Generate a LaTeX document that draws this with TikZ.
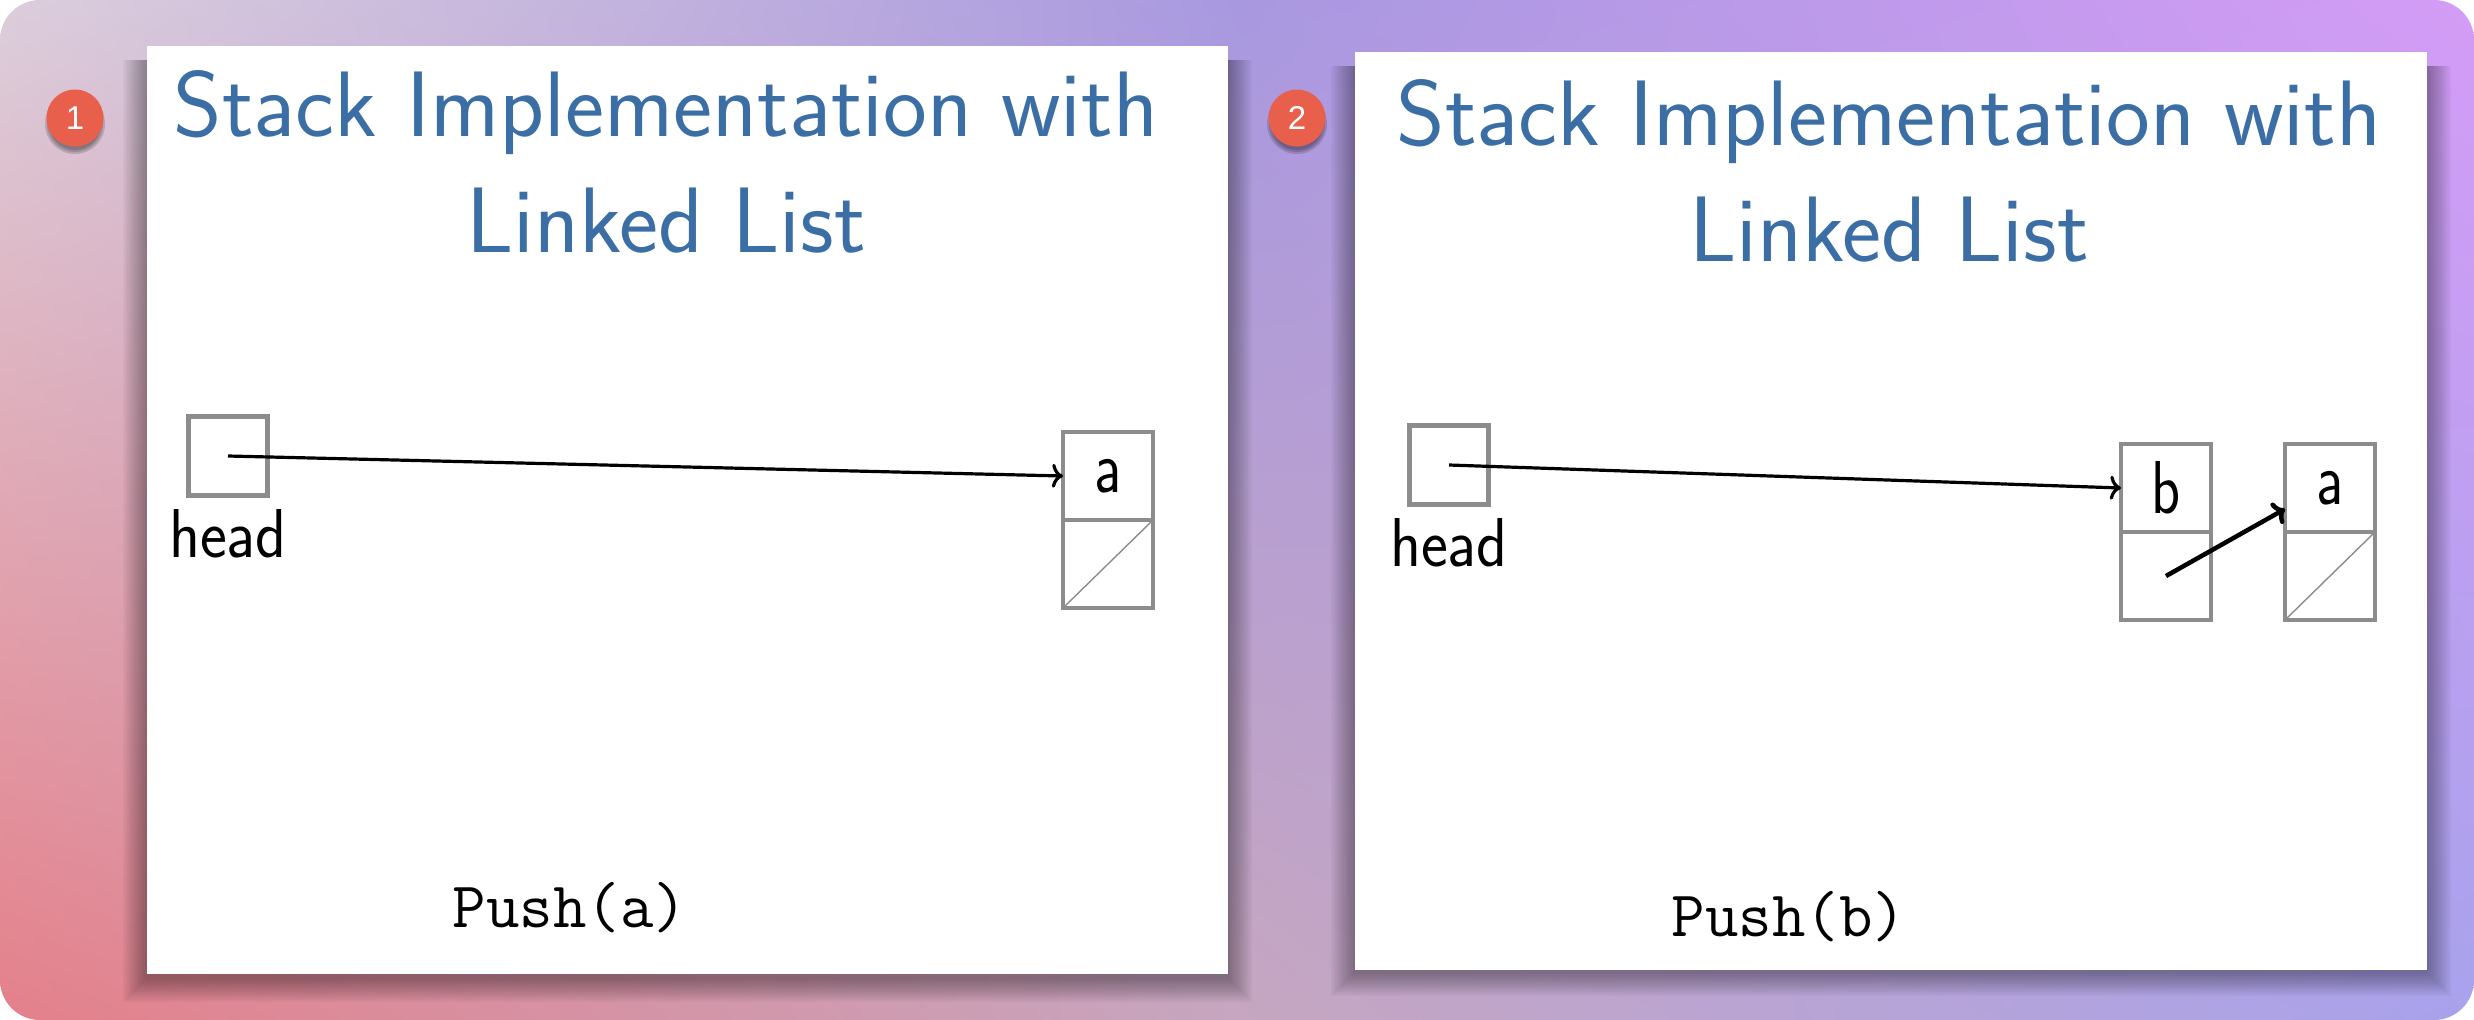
\documentclass[tikz,border=0pt]{standalone}
\usepackage{fontspec}
\usepackage{graphicx}
\newfontfamily\badgefont{Liberation Sans}
\usetikzlibrary{positioning,shadings,arrows.meta}

\definecolor{titleblue}{HTML}{3A6EA5}
\definecolor{boxgray}{HTML}{8C8C8C}
\definecolor{badgered}{HTML}{E8604C}
\definecolor{bgtl}{HTML}{DCCEDC}
\definecolor{bgtm}{HTML}{A898E0}
\definecolor{bgtr}{HTML}{D49CF6}
\definecolor{bgbl}{HTML}{E4808A}
\definecolor{bgbm}{HTML}{C6A6C0}
\definecolor{bgbr}{HTML}{A8A2EC}

% text in the slides is a bit taller than wide
\newcommand{\vstretch}[2]{\scalebox{1}[#1]{#2}}

\begin{document}
\begin{tikzpicture}[x=1pt,y=-1pt]
	\tikzset{
		headbox/.style={rectangle, draw=boxgray, line width=4.3pt, minimum size=79pt, inner sep=0pt, outer sep=0pt},
		cell/.style={rectangle, draw=boxgray, line width=4.3pt, minimum width=90pt, minimum height=88pt, inner sep=0pt, outer sep=0pt, font=\sffamily\fontsize{60}{60}\selectfont},
		headlabel/.style={inner sep=0pt, outer sep=0pt, font=\sffamily\fontsize{64}{64}\selectfont},
		slidetitle/.style={align=center, inner sep=0pt, text=titleblue, font=\sffamily\fontsize{93}{116}\selectfont},
		opcall/.style={inner sep=0pt, anchor=base, font=\ttfamily\fontsize{65}{65}\selectfont},
		ptr/.style={-{To[length=11pt,width=24pt]}, line width=3.2pt, black},
		nullslash/.style={boxgray, line width=1.4pt},
		badge/.style={circle, fill=badgered, minimum size=57pt, inner sep=0pt, text=white, font=\badgefont\fontsize{33}{33}\selectfont}
	}

	\useasboundingbox (0,0) rectangle (2474,1020);
	\fill[white] (0,0) rectangle (2474,1020);

	% background
	\begin{scope}
		\clip[rounded corners=40pt] (0,0) rectangle (2474,1020);
		\shade[upper left=bgtl, upper right=bgtm, lower left=bgbl, lower right=bgbm] (0,0) rectangle (1238,1020);
		\shade[upper left=bgtm, upper right=bgtr, lower left=bgbm, lower right=bgbr] (1237,0) rectangle (2474,1020);
	\end{scope}

	% panel shadows
	\foreach \s in {2,4,...,24} {
		\fill[black, fill opacity=0.03] (147-\s,60) rectangle (1228+\s,978+\s);
		\fill[black, fill opacity=0.03] (1355-\s,66) rectangle (2427+\s,972+\s);
	}
	\fill[white] (147,46) rectangle (1228,974);
	\fill[white] (1355,52) rectangle (2427,970);

	% badges
	\foreach \s in {0,2,4} {
		\fill[black, opacity=0.15] (75,124) circle (26pt+\s pt);
		\fill[black, opacity=0.15] (1297,124) circle (26pt+\s pt);
	}
	\node[badge] (badgeone) at (75,118) {1};
	\node[badge] (badgetwo) at (1297,118) {2};

	% --- Push(a) ---
	\node[slidetitle, anchor=north] (titleone) at (666,70) {Stack Implementation with\\Linked List};

	\node[headbox] (headone) at (228,456) {};
	\node[headlabel, below=14pt of headone] (headonelbl) {\vstretch{1.08}{head}};

	\node[cell] (aone) at (1108,476) {\vstretch{1.25}{a}};
	\node[cell, below=0pt of aone] (aonenext) {};
	\draw[nullslash] (aonenext.south west) -- (aonenext.north east);

	\draw[ptr] (headone.center) -- (aone.west);

	\node[opcall] (pushone) at (570,927) {Push(a)};

	% --- Push(b) ---
	\node[slidetitle, anchor=north] (titletwo) at (1889,79) {Stack Implementation with\\Linked List};

	\node[headbox] (headtwo) at (1449,465) {};
	\node[headlabel, below=14pt of headtwo] (headtwolbl) {\vstretch{1.08}{head}};

	\node[cell] (btwo) at (2166,488) {\vstretch{1.25}{b}};
	\node[cell, below=0pt of btwo] (btwonext) {};

	\node[cell] (atwo) at (2330,488) {\vstretch{1.25}{a}};
	\node[cell, below=0pt of atwo] (atwonext) {};
	\draw[nullslash] (atwonext.south west) -- (atwonext.north east);

	\draw[ptr] (headtwo.center) -- (btwo.west);
	\draw[ptr, line width=4.5pt] (btwonext.center) -- (atwo.205);

	\node[opcall] (pushtwo) at (1789,936) {Push(b)};
\end{tikzpicture}
\end{document}
